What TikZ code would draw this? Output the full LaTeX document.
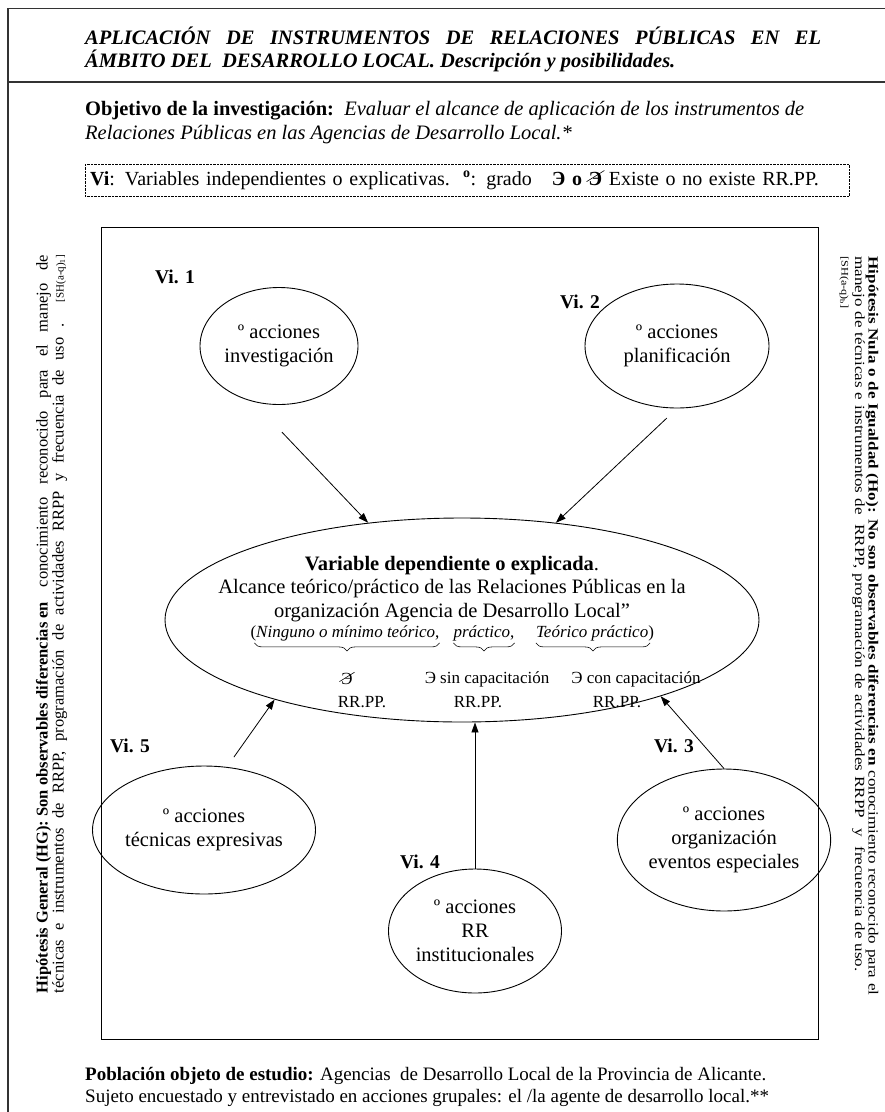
\documentclass[tikz,border=0pt]{standalone}
\usepackage{fontspec}
\usepackage{graphicx}
\setmainfont{Liberation Serif}
\newfontfamily\hofont{Liberation Serif}[FakeStretch=1.22]
\usetikzlibrary{arrows.meta, shapes.geometric, decorations.pathreplacing}

\newcommand{\noexiste}[1]{\ooalign{#1\cr\hidewidth\raisebox{.35ex}{\rotatebox{32}{\rule{1.05em}{.6pt}}}\hidewidth\cr}}

\begin{document}
\begin{tikzpicture}[x=1pt, y=-1pt,
  texto/.style={inner sep=0pt, align=left, font=\fontsize{20.5}{24}\selectfont},
  accion/.style={ellipse, draw, line width=0.9pt, inner sep=0pt, align=center, font=\fontsize{20.5}{24}\selectfont},
  etiq/.style={inner sep=0pt, font=\bfseries\fontsize{19.5}{22}\selectfont},
  grupo/.style={inner sep=0pt, font=\fontsize{17}{19}\selectfont},
  menor/.style={inner sep=0pt, font=\fontsize{17}{19}\selectfont},
  llave/.style={decorate, decoration={brace, mirror, amplitude=8pt, raise=2pt}, line width=0.6pt},
  flecha/.style={-{Triangle[length=10pt, width=7pt]}, line width=0.8pt}
]
\useasboundingbox (0,0) rectangle (885,1112);

% marco exterior
\draw[line width=1.3pt, black!80] (885,8.5) -| (8,1112);
\draw[line width=1.3pt, black!80] (8,82) -- (885,82);

% cabecera
\node[texto, anchor=base west, font=\bfseries\itshape\fontsize{20.5}{23}\selectfont] (titulo) at (85,44)
  {\makebox[736pt][s]{APLICACIÓN DE INSTRUMENTOS DE RELACIONES PÚBLICAS EN EL}};
\node[texto, anchor=base west, font=\bfseries\itshape\fontsize{20.5}{23}\selectfont] (titulo2) at (85,67)
  {ÁMBITO DEL\ \ DESARROLLO LOCAL. Descripción y posibilidades.};
\node[texto, anchor=base west] (objetivo) at (85,115)
  {\textbf{Objetivo de la investigación:}\ \ \textit{Evaluar el alcance de aplicación de los instrumentos de}};
\node[texto, anchor=base west] (objetivo2) at (85,139)
  {\textit{Relaciones Públicas en las Agencias de Desarrollo Local.*}};
\node[texto, draw, densely dotted, anchor=north west, minimum height=32pt, inner xsep=5pt, text width=754pt,
  font=\fontsize{20}{24}\selectfont] (leyenda) at (85,164)
  {\textbf{Vi}: Variables independientes o explicativas.\ \ \textsuperscript{\textbf{o}}: grado\ \ \ \textbf{Э o \noexiste{Э}} Existe o no existe RR.PP.};

% hipotesis laterales
\node[rotate=90, inner sep=0pt, align=left, font=\fontsize{16.5}{16}\selectfont\lineskiplimit-20pt] (hg) at (51.5,624)
  {\hbox to 738pt{\textbf{Hipótesis General (HG): Son observables diferencias en}\hspace{6pt plus 1fil}conocimiento\hfil\ reconocido\hfil\ para\hfil\ el\hfil\ manejo\hfil\ de}\\
   \makebox[738pt][s]{técnicas e instrumentos de RRPP, programación de actividades RRPP y frecuencia de uso . {\fontsize{11}{11}\selectfont[SH(a-q)\textsubscript{1}]}}};
\node[rotate=-90, inner sep=0pt, align=left, font=\hofont\fontsize{14}{13.5}\selectfont\lineskiplimit-20pt] (ho) at (859,626)
  {\makebox[739pt][s]{\textbf{Hipótesis Nula o de Igualdad (Ho): No son observables diferencias en} conocimiento reconocido para el}\\
   \makebox[715pt][s]{manejo de técnicas e instrumentos de\ \ RRPP, programación de actividades RRPP\ \ y\ \ frecuencia de uso.}\\
   {\fontsize{10}{10}\selectfont[SH(a-q)\textsubscript{b}]}};

% modelo
\draw[line width=1pt] (101.5,227) rectangle (818,1039);

\node[ellipse, draw, line width=0.9pt, minimum width=594pt, minimum height=204pt, inner sep=0pt] (dep) at (462,620) {};
\node[texto, align=center, font=\fontsize{20.5}{23.5}\selectfont] (dept) at (452,589)
  {\textbf{Variable dependiente o explicada}.\\
   Alcance teórico/práctico de las Relaciones Públicas en la\\
   organización Agencia de Desarrollo Local”};
\node[grupo] (g1) at (345,633) {(\textit{Ninguno o mínimo teórico},};
\node[grupo] (g2) at (484,633) {\textit{práctico},};
\node[grupo] (g3) at (595,633) {\textit{Teórico práctico})};
\draw[llave] ([xshift=4pt]g1.south west) -- (g1.south east);
\draw[llave] (g2.south west) -- (g2.south east);
\draw[llave] (g3.south west) -- ([xshift=-4pt]g3.south east);
\node[menor] (e1) at (347,679) {\noexiste{Э}};
\node[menor] (e2) at (487,679) {Э sin capacitación};
\node[menor] (e3) at (636,679) {Э con capacitación};
\node[menor] (r1) at (362,702) {RR.PP.};
\node[menor] (r2) at (478,702) {RR.PP.};
\node[menor] (r3) at (617,702) {RR.PP.};

\node[accion, minimum width=158pt, minimum height=117pt] (v1) at (279,346) {º acciones\\investigación};
\node[etiq] (l1) at (175,277) {Vi. 1};
\node[accion, minimum width=184pt, minimum height=124pt] (v2) at (677,346) {º acciones\\planificación};
\node[etiq] (l2) at (580,302) {Vi. 2};
\node[accion, minimum width=172pt, minimum height=128pt] (v5) at (204,830) {º acciones\\técnicas expresivas};
\node[etiq] (l5) at (130,746) {Vi. 5};
\node[accion, minimum width=173pt, minimum height=124pt] (v4) at (475,931) {º acciones\\RR\\institucionales};
\node[etiq] (l4) at (420,862) {Vi. 4};
\node[accion, minimum width=172pt, minimum height=142pt] (v3) at (724,840) {º acciones\\organización\\eventos especiales};
\node[etiq] (l3) at (674,746) {Vi. 3};

\draw[flecha, shorten <=42pt] (v1.-115) -- (dep.134.4);
\draw[flecha, shorten <=14pt] (v2.south) -- (dep.46.8);
\draw[flecha, shorten <=12pt] (v5.70) -- (dep.203.5);
\draw[flecha] (v4.north) -- (v4.north |- dep.south);
\draw[flecha] (v3.north) -- (dep.-21.1);

% poblacion
\node[texto, anchor=base west, font=\fontsize{19}{22}\selectfont] (poblacion) at (85,1080)
  {\textbf{Población objeto de estudio:} Agencias\ \ de Desarrollo Local de la Provincia de Alicante.};
\node[texto, anchor=base west, font=\fontsize{19}{22}\selectfont] (sujeto) at (85,1102)
  {Sujeto encuestado y entrevistado en acciones grupales: el /la agente de desarrollo local.**};
\end{tikzpicture}
\end{document}
